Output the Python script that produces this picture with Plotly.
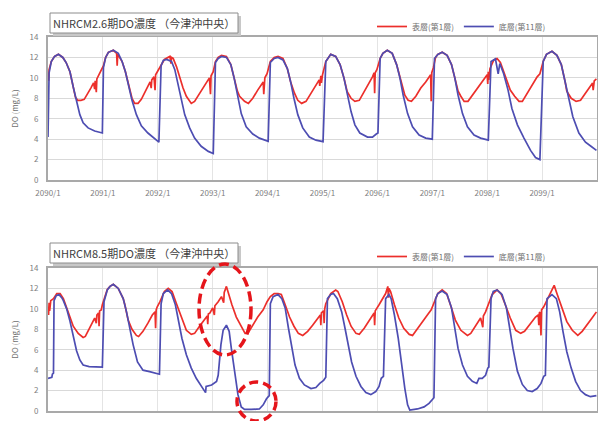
import plotly.graph_objects as go

# ---------------------------------------------------------------------------
# Data: daily DO (mg/L) at the Imazu offshore centre station, read as knots.
# Times are in years after January 2090.
# ---------------------------------------------------------------------------
START_YEAR = 2090
YEAR_TICKS = [0, 1, 2, 3, 4, 5, 6, 7, 8, 9]
TICK_LABELS = ["2090/1", "2091/1", "2092/1", "2093/1", "2094/1",
               "2095/1", "2096/1", "2097/1", "2098/1", "2099/1"]
Y_TICKS = [0, 2, 4, 6, 8, 10, 12, 14]

SURFACE_NAME = "表層(第1層)"
BOTTOM_NAME = "底層(第11層)"
TITLE_26 = "NHRCM2.6期DO濃度 （今津沖中央）"
TITLE_85 = "NHRCM8.5期DO濃度 （今津沖中央）"

# --- RCP2.6 panel, surface layer ---
t_surf_26 = [0.00, 0.01, 0.02, 0.06, 0.12, 0.19, 0.27, 0.33, 0.40, 0.46, 0.50, 0.54, 0.60, 0.66, 0.72, 0.78, 0.83, 0.85, 0.86, 0.88, 0.89, 0.93, 0.97,
             1.01, 1.05, 1.10, 1.19, 1.25, 1.26, 1.27, 1.35, 1.41, 1.47, 1.53, 1.58, 1.64, 1.70, 1.76, 1.82, 1.86, 1.88, 1.89, 1.93, 1.95, 1.96, 1.99,
             2.06, 2.12, 2.22, 2.24, 2.25, 2.28, 2.34, 2.40, 2.46, 2.52, 2.61, 2.67, 2.76, 2.85, 2.94, 2.96, 2.97,
             3.01, 3.05, 3.10, 3.16, 3.25, 3.33, 3.39, 3.45, 3.49, 3.58, 3.65, 3.73, 3.82, 3.88, 3.92, 3.93, 3.95, 3.99,
             4.05, 4.12, 4.19, 4.28, 4.36, 4.42, 4.49, 4.55, 4.62, 4.70, 4.79, 4.88, 4.94, 4.95, 4.97, 4.98,
             5.00, 5.06, 5.15, 5.24, 5.32, 5.39, 5.45, 5.52, 5.59, 5.67, 5.76, 5.85, 5.91, 5.94, 5.95, 5.96, 5.99,
             6.05, 6.10, 6.18, 6.27, 6.35, 6.41, 6.47, 6.50, 6.56, 6.62, 6.70, 6.79, 6.88, 6.94, 6.97, 6.98, 6.99,
             7.02, 7.06, 7.10, 7.18, 7.27, 7.35, 7.41, 7.47, 7.52, 7.58, 7.65, 7.73, 7.82, 7.91, 7.97,
             8.00, 8.01, 8.02, 8.03, 8.05, 8.12, 8.18, 8.24, 8.30, 8.36, 8.42, 8.50, 8.58, 8.64, 8.73, 8.82, 8.91, 8.96,
             9.02, 9.08, 9.18, 9.27, 9.35, 9.42, 9.45, 9.53, 9.62, 9.70, 9.79, 9.88, 9.92, 9.93, 9.95, 9.99]
do_surf_26 = [10.2, 9.7, 10.8, 11.6, 12.1, 12.3, 12.0, 11.5, 10.6, 9.2, 8.1, 7.8, 7.8, 7.9, 8.4, 9.0, 9.5, 8.9, 9.7, 8.6, 9.9, 10.3, 10.8,
              11.2, 12.0, 12.5, 12.7, 12.4, 11.2, 12.3, 11.6, 10.6, 9.3, 8.0, 7.5, 7.5, 7.9, 8.6, 9.2, 9.6, 9.0, 9.8, 10.1, 8.8, 10.3, 10.6,
              11.2, 11.8, 12.1, 11.4, 12.0, 11.9, 11.1, 10.0, 9.0, 8.2, 7.5, 7.7, 8.5, 9.3, 10.0, 8.4, 10.2,
              10.6, 11.6, 12.0, 12.2, 12.1, 11.3, 10.0, 8.7, 8.2, 7.7, 7.5, 8.0, 8.8, 9.3, 9.6, 8.4, 10.0, 10.4,
              11.6, 12.0, 12.1, 11.9, 10.9, 9.6, 8.5, 7.8, 7.5, 7.7, 8.5, 9.3, 9.8, 9.2, 10.2, 9.5,
              10.3, 11.6, 12.3, 12.1, 11.3, 10.0, 8.65, 8.0, 7.7, 7.8, 8.65, 9.5, 10.1, 10.5, 8.5, 10.5, 10.8,
              11.9, 12.4, 12.7, 12.4, 11.3, 10.0, 8.7, 8.3, 7.8, 7.7, 8.2, 9.0, 9.6, 10.1, 10.3, 7.7, 10.5,
              11.0, 12.0, 12.3, 12.5, 12.2, 11.3, 10.0, 8.7, 8.2, 7.7, 7.7, 8.3, 9.0, 9.6, 10.0,
              10.3, 9.4, 10.6, 9.8, 10.9, 11.75, 11.9, 11.5, 10.6, 9.6, 8.8, 8.2, 7.7, 7.7, 8.5, 9.3, 10.1, 10.4,
              11.6, 12.3, 12.6, 12.2, 11.3, 9.6, 8.7, 8.0, 7.7, 7.8, 8.5, 9.1, 9.5, 8.8, 9.7, 9.9]

# --- RCP2.6 panel, bottom layer ---
t_bot_26 = [0.00, 0.02, 0.06, 0.12, 0.19, 0.27, 0.33, 0.40, 0.46, 0.52, 0.58, 0.64, 0.73, 0.85, 0.96, 0.99,
            1.01, 1.05, 1.10, 1.19, 1.28, 1.35, 1.41, 1.47, 1.53, 1.61, 1.70, 1.82, 1.92,
            2.02, 2.06, 2.10, 2.16, 2.25, 2.31, 2.37, 2.43, 2.49, 2.58, 2.67, 2.79, 2.92,
            3.01, 3.05, 3.10, 3.16, 3.25, 3.33, 3.39, 3.45, 3.52, 3.61, 3.73, 3.85,
            4.01, 4.05, 4.12, 4.19, 4.28, 4.36, 4.42, 4.48, 4.55, 4.64, 4.76, 4.88,
            5.01, 5.06, 5.15, 5.24, 5.32, 5.39, 5.45, 5.52, 5.59, 5.68, 5.82, 5.91, 5.98,
            6.01, 6.05, 6.10, 6.18, 6.27, 6.35, 6.41, 6.47, 6.55, 6.64, 6.76, 6.88,
            7.00, 7.04, 7.10, 7.18, 7.27, 7.35, 7.41, 7.47, 7.55, 7.64, 7.76, 7.88,
            8.02, 8.07, 8.15, 8.20, 8.23, 8.30, 8.38, 8.45, 8.55, 8.67, 8.79, 8.88, 8.96,
            9.02, 9.08, 9.18, 9.27, 9.35, 9.42, 9.48, 9.56, 9.67, 9.79, 9.89, 9.99]
do_bot_26 = [4.2, 10.5, 11.6, 12.1, 12.3, 12.0, 11.5, 10.6, 9.1, 7.7, 6.4, 5.6, 5.1, 4.8, 4.6, 4.6,
             11.0, 12.0, 12.5, 12.7, 12.4, 11.6, 10.6, 9.3, 7.8, 6.4, 5.3, 4.6, 4.1,
             3.7, 11.2, 11.7, 11.8, 11.6, 10.8, 9.3, 7.7, 6.4, 5.1, 4.1, 3.3, 2.8,
             2.6, 11.5, 11.9, 12.1, 12.0, 11.3, 10.0, 8.3, 6.5, 5.2, 4.5, 4.1,
             3.8, 11.5, 11.9, 12.0, 11.75, 10.9, 9.6, 8.0, 6.4, 5.1, 4.2, 3.9,
             3.75, 11.6, 12.3, 12.1, 11.3, 10.0, 8.3, 6.7, 5.4, 4.6, 4.2, 4.2, 4.5,
             4.6, 11.9, 12.4, 12.7, 12.4, 11.3, 10.0, 8.3, 6.5, 5.2, 4.4, 4.1,
             4.0, 11.9, 12.3, 12.5, 12.2, 11.3, 10.0, 8.3, 6.5, 5.2, 4.4, 4.1,
             3.9, 11.6, 11.85, 10.4, 11.4, 10.4, 8.8, 7.0, 5.4, 4.1, 2.9, 2.2, 2.0,
             11.6, 12.3, 12.6, 12.2, 11.3, 9.6, 8.0, 6.2, 4.6, 3.7, 3.3, 2.9]

# --- RCP8.5 panel, surface layer ---
t_surf_85 = [0.00, 0.01, 0.02, 0.03, 0.05, 0.10, 0.16, 0.22, 0.28, 0.34, 0.40, 0.46, 0.55, 0.64, 0.68, 0.76, 0.85, 0.88, 0.89, 0.92, 0.93, 0.94, 0.97, 0.99,
             1.02, 1.08, 1.13, 1.19, 1.28, 1.37, 1.40, 1.46, 1.53, 1.61, 1.65, 1.73, 1.82, 1.90, 1.95, 1.96, 1.97, 1.99,
             2.04, 2.12, 2.19, 2.26, 2.34, 2.43, 2.52, 2.61, 2.67, 2.76, 2.85, 2.90, 2.91, 2.92, 2.95,
             3.00, 3.03, 3.04, 3.10, 3.16, 3.20, 3.21, 3.25, 3.29, 3.35, 3.43, 3.52, 3.59, 3.64, 3.73, 3.82, 3.92, 3.99,
             4.05, 4.12, 4.19, 4.25, 4.32, 4.40, 4.48, 4.56, 4.64, 4.73, 4.82, 4.92, 4.96, 4.97, 4.98,
             5.02, 5.03, 5.04, 5.06, 5.15, 5.24, 5.28, 5.36, 5.44, 5.52, 5.61, 5.67, 5.76, 5.85, 5.94, 5.95, 5.96,
             6.03, 6.09, 6.15, 6.19, 6.20, 6.21, 6.24, 6.31, 6.39, 6.48, 6.58, 6.64, 6.73, 6.82, 6.91, 6.98,
             7.04, 7.10, 7.18, 7.26, 7.33, 7.42, 7.52, 7.64, 7.70, 7.79, 7.88, 7.92, 7.93, 7.97,
             8.03, 8.09, 8.18, 8.25, 8.33, 8.42, 8.52, 8.61, 8.68, 8.79, 8.88, 8.93, 8.94, 8.95, 8.96, 8.98, 8.99,
             9.03, 9.12, 9.18, 9.22, 9.27, 9.36, 9.45, 9.55, 9.65, 9.73, 9.82, 9.91, 9.99]
do_surf_85 = [10.2, 9.4, 10.6, 9.8, 10.8, 11.0, 11.5, 11.5, 11.0, 10.1, 9.1, 8.3, 7.6, 7.2, 7.3, 8.1, 9.1, 8.6, 9.4, 9.6, 8.3, 9.8, 9.9, 10.4,
              10.9, 11.9, 12.2, 12.4, 12.0, 11.0, 10.4, 8.9, 8.0, 7.4, 7.3, 7.8, 8.6, 9.4, 9.7, 8.1, 9.9, 10.2,
              10.7, 11.7, 12.0, 11.7, 10.5, 9.1, 7.9, 7.5, 7.6, 8.3, 8.9, 9.3, 8.5, 9.5, 9.6,
              10.1, 9.4, 10.3, 10.7, 11.2, 10.6, 11.6, 12.2, 11.4, 10.4, 9.2, 8.3, 7.6, 7.6, 8.4, 9.2, 9.9, 10.7,
              11.2, 11.5, 11.5, 11.4, 10.4, 9.2, 8.3, 7.6, 7.4, 7.8, 8.4, 9.1, 9.4, 8.4, 9.6,
              9.8, 8.6, 10.0, 10.5, 11.5, 11.85, 11.7, 10.7, 9.4, 8.3, 7.6, 7.5, 8.1, 8.9, 9.6, 8.4, 9.8,
              10.4, 10.9, 11.5, 12.2, 11.1, 12.0, 11.7, 10.4, 9.1, 8.1, 7.5, 7.4, 8.1, 8.75, 9.4, 9.9,
              10.7, 11.5, 11.85, 11.5, 10.4, 8.9, 7.9, 7.4, 7.6, 8.3, 9.1, 8.2, 9.3, 9.7,
              10.5, 11.4, 11.85, 11.5, 10.4, 9.1, 7.9, 7.6, 7.8, 8.6, 9.2, 9.4, 8.4, 9.6, 9.7, 7.4, 9.9,
              10.2, 11.2, 11.85, 12.3, 11.5, 10.1, 8.75, 7.9, 7.4, 7.8, 8.4, 9.1, 9.7]

# --- RCP8.5 panel, bottom layer ---
t_bot_85 = [0.00, 0.07, 0.08, 0.10, 0.11, 0.15, 0.20, 0.25, 0.28, 0.34, 0.40, 0.46, 0.52, 0.58, 0.64, 0.75, 0.90, 0.99,
            1.02, 1.08, 1.13, 1.19, 1.28, 1.37, 1.43, 1.49, 1.55, 1.63, 1.73, 1.85, 1.98,
            2.03, 2.06, 2.10, 2.18, 2.25, 2.32, 2.38, 2.44, 2.52, 2.61, 2.70, 2.79, 2.85, 2.87, 2.88, 2.98,
            3.07, 3.10, 3.15, 3.19, 3.25, 3.30, 3.34, 3.40, 3.46, 3.52, 3.58, 3.70, 3.85, 3.92, 3.98,
            4.03, 4.05, 4.10, 4.19, 4.26, 4.32, 4.38, 4.44, 4.50, 4.58, 4.67, 4.79, 4.88, 4.95,
            5.02, 5.06, 5.09, 5.15, 5.20, 5.27, 5.35, 5.41, 5.47, 5.53, 5.61, 5.70, 5.79, 5.88, 5.97,
            6.03, 6.07, 6.11, 6.15, 6.21, 6.25, 6.31, 6.38, 6.44, 6.50, 6.55, 6.59, 6.73, 6.85, 6.94,
            7.00, 7.03, 7.06, 7.10, 7.18, 7.27, 7.35, 7.41, 7.47, 7.55, 7.64, 7.73, 7.81, 7.85, 7.91, 7.97,
            8.01, 8.03, 8.07, 8.11, 8.18, 8.27, 8.35, 8.41, 8.47, 8.55, 8.64, 8.73, 8.82, 8.91, 8.98,
            9.03, 9.06, 9.09, 9.18, 9.26, 9.32, 9.38, 9.45, 9.53, 9.61, 9.70, 9.79, 9.88, 9.99]
do_bot_85 = [3.2, 3.3, 3.6, 3.7, 10.8, 11.3, 11.4, 11.1, 10.8, 10.0, 8.8, 7.2, 5.9, 5.0, 4.5, 4.35, 4.3, 4.3,
             10.7, 11.85, 12.2, 12.4, 12.0, 11.0, 9.7, 8.1, 6.5, 4.8, 4.0, 3.85, 3.7,
             3.6, 10.5, 11.5, 11.85, 11.5, 10.4, 8.75, 7.1, 5.5, 4.2, 3.2, 2.4, 1.9, 1.8, 2.4, 2.55,
             2.9, 3.5, 6.5, 7.9, 8.4, 7.8, 6.1, 3.85, 1.6, 0.4, 0.15, 0.15, 0.2, 0.6, 1.2,
             1.5, 10.5, 11.2, 11.4, 11.0, 10.1, 8.1, 6.1, 4.5, 3.2, 2.55, 2.2, 2.3, 2.7,
             3.0, 3.3, 11.0, 11.4, 11.5, 11.0, 9.7, 8.1, 6.5, 4.8, 3.4, 2.4, 1.8, 1.6, 1.9,
             2.4, 3.2, 3.4, 11.0, 11.4, 11.0, 9.4, 7.1, 4.5, 2.2, 0.6, 0.1, 0.2, 0.4, 0.75,
             1.2, 1.3, 11.0, 11.5, 11.75, 11.4, 10.1, 8.1, 6.1, 4.5, 3.4, 2.9, 2.7, 3.2, 3.2, 3.5,
             4.2, 4.3, 11.0, 11.7, 11.85, 11.4, 10.1, 8.1, 6.1, 3.9, 2.6, 2.0, 1.9, 2.2, 2.7,
             3.4, 3.5, 11.0, 11.4, 11.0, 9.7, 7.8, 5.8, 4.2, 2.9, 2.0, 1.6, 1.4, 1.5]

# ---------------------------------------------------------------------------
W, H = 598, 421
SURF_COLOR = "#ec2f2b"
BOT_COLOR = "#4d4db2"
FONT = "Noto Sans CJK JP"


def px(x):
    return x / W


def py(y):
    return 1 - y / H


def years(ts):
    return [START_YEAR + t for t in ts]


fig = go.Figure()

panels = [
    dict(t_s=t_surf_26, v_s=do_surf_26, t_b=t_bot_26, v_b=do_bot_26,
         xa="x", ya="y", legend="legend", top=37, bottom=180, title=TITLE_26),
    dict(t_s=t_surf_85, v_s=do_surf_85, t_b=t_bot_85, v_b=do_bot_85,
         xa="x2", ya="y2", legend="legend2", top=268, bottom=411, title=TITLE_85),
]

for p in panels:
    fig.add_trace(go.Scatter(x=years(p["t_s"]), y=p["v_s"], mode="lines", name=SURFACE_NAME,
                             line=dict(color=SURF_COLOR, width=1.7),
                             xaxis=p["xa"], yaxis=p["ya"], legend=p["legend"]))
    fig.add_trace(go.Scatter(x=years(p["t_b"]), y=p["v_b"], mode="lines", name=BOTTOM_NAME,
                             line=dict(color=BOT_COLOR, width=1.7),
                             xaxis=p["xa"], yaxis=p["ya"], legend=p["legend"]))

x_dom = [px(48), px(597)]
axis_common = dict(showline=True, mirror=True, linecolor="#a9a9a9", linewidth=2,
                   showgrid=True, zeroline=False, automargin=False,
                   ticks="outside", tickcolor="rgba(0,0,0,0)",
                   tickfont=dict(family=FONT, size=8, color="#808080"))

layout = dict(
    width=W, height=H, margin=dict(l=0, r=0, t=0, b=0),
    paper_bgcolor="white", plot_bgcolor="white",
    font=dict(family=FONT, color="#595959"),
    showlegend=True,
)

for i, p in enumerate(panels):
    sfx = "" if i == 0 else "2"
    layout["xaxis" + sfx] = dict(
        axis_common, domain=x_dom, range=[START_YEAR, START_YEAR + 10],
        tickvals=[START_YEAR + t for t in YEAR_TICKS], ticktext=TICK_LABELS,
        ticklen=4, gridcolor="#e4e4e4", gridwidth=1,
        anchor="y" + sfx)
    layout["yaxis" + sfx] = dict(
        axis_common, domain=[py(p["bottom"]), py(p["top"])], range=[0, 14],
        tickvals=Y_TICKS, ticklen=6, gridcolor="#d9d9d9", gridwidth=1,
        title=dict(text="DO (mg/L)", font=dict(family=FONT, size=8, color="#707070"), standoff=10),
        anchor="x" + sfx)
    leg_y = 12 if i == 0 else 242
    layout[p["legend"]] = dict(
        orientation="h", x=px(372), y=py(leg_y), xanchor="left", yanchor="top",
        font=dict(family=FONT, size=8, color="#707070"), itemwidth=30,
        bgcolor="rgba(0,0,0,0)", tracegroupgap=0)

fig.update_layout(**layout)

# Title boxes with drop shadow
shapes = []
annotations = []
for p in panels:
    top = 13 if p is panels[0] else 243
    box = dict(x0=px(50), x1=px(238), y0=py(top + 20), y1=py(top))
    shapes.append(dict(type="rect", xref="paper", yref="paper",
                       x0=box["x0"] + px(3), x1=box["x1"] + px(3),
                       y0=box["y0"] - 3 / H, y1=box["y1"] - 3 / H,
                       fillcolor="#c8c8c8", line=dict(width=0)))
    shapes.append(dict(type="rect", xref="paper", yref="paper", **box,
                       fillcolor="white", line=dict(color="#8c8c8c", width=1)))
    annotations.append(dict(xref="paper", yref="paper", x=px(144), y=py(top + 10),
                            xanchor="center", yanchor="middle",
                            text=p["title"], showarrow=False,
                            font=dict(family=FONT, size=11, color="#404040")))

# Dashed highlight rings on the RCP8.5 panel
shapes.append(dict(type="circle", xref="paper", yref="paper",
                   x0=px(199), x1=px(251), y0=py(355), y1=py(264),
                   line=dict(color="#e5151b", width=3.5, dash="10px,5px")))
shapes.append(dict(type="circle", xref="paper", yref="paper",
                   x0=px(237), x1=px(276), y0=py(421), y1=py(382),
                   line=dict(color="#e5151b", width=3.5, dash="9px,5px")))

fig.update_layout(shapes=shapes, annotations=annotations)

fig.write_html("out.html")
